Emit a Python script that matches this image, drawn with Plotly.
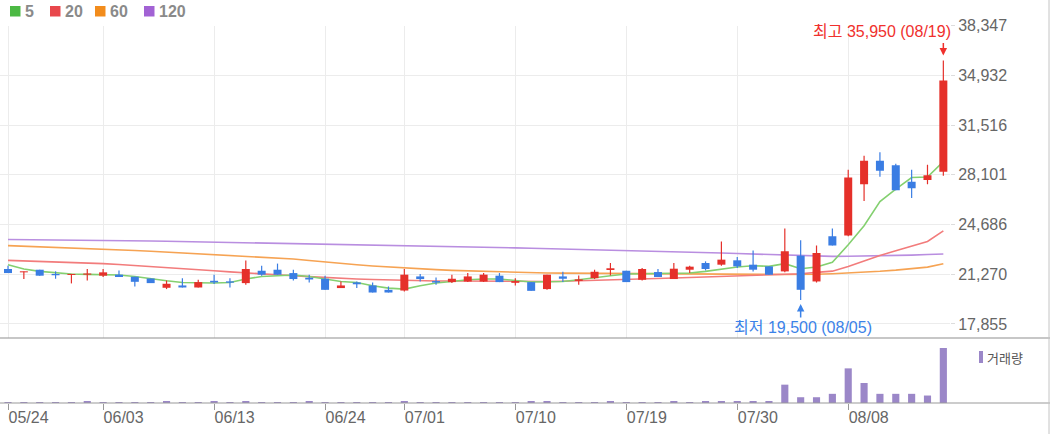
import plotly.graph_objects as go

# ---------------- data ----------------
dates = ["05/24", "05/27", "05/28", "05/29", "05/30", "05/31", "06/03", "06/04", "06/05", "06/07",
         "06/10", "06/11", "06/12", "06/13", "06/14", "06/17", "06/18", "06/19", "06/20", "06/21",
         "06/24", "06/25", "06/26", "06/27", "06/28", "07/01", "07/02", "07/03", "07/04", "07/05",
         "07/08", "07/09", "07/10", "07/11", "07/12", "07/15", "07/16", "07/17", "07/18", "07/19",
         "07/22", "07/23", "07/24", "07/25", "07/26", "07/29", "07/30", "07/31", "08/01", "08/02",
         "08/05", "08/06", "08/07", "08/08", "08/09", "08/12", "08/13", "08/14", "08/16", "08/19"]

opens = [21630, 21400, 21580, 21290, 21220, 21240, 21170, 21240, 21100, 20980,
         20340, 20500, 20360, 20820, 20780, 20660, 21510, 21580, 21350, 21030,
         20960, 20320, 20710, 20500, 20200, 20150, 21120, 20800, 20730, 20770,
         20770, 21170, 20680, 20730, 20250, 21120, 20810, 21000, 21560, 21510,
         20890, 21420, 20940, 21580, 22040, 21926, 22225, 21926, 21810, 21465,
         22547, 20774, 23879, 23927, 27446, 29060, 28757, 27625, 27743, 28302]
highs = [21860, 21450, 21580, 21470, 21290, 21630, 21630, 21530, 21100, 20980,
         20840, 21000, 20890, 21236, 21000, 22220, 21860, 22000, 21580, 21240,
         21170, 20770, 20770, 20710, 20430, 21630, 21290, 21050, 21236, 21350,
         21350, 21350, 21000, 20730, 21240, 21440, 21190, 21580, 22040, 21510,
         21700, 21630, 22040, 21860, 22155, 23513, 22460, 22892, 21810, 24410,
         23600, 23237, 24410, 28440, 29400, 29640, 28850, 28440, 28790, 35950]
lows = [21350, 20940, 21170, 20960, 20640, 20840, 21080, 21080, 20430, 20660,
        20250, 20360, 20360, 20600, 20360, 20546, 21170, 21240, 20840, 20710,
        20200, 20320, 20320, 20015, 20015, 20080, 20770, 20546, 20660, 20730,
        20730, 20730, 20500, 20130, 20200, 20730, 20546, 20940, 21190, 20730,
        20840, 21080, 20940, 21350, 21530, 21857, 21700, 21465, 21236, 21400,
        19500, 20700, 23237, 23880, 26300, 27960, 27032, 26500, 27446, 28030]
closes = [21350, 21470, 21170, 21200, 21290, 21320, 21400, 21080, 20750, 20660,
          20615, 20360, 20730, 20710, 20690, 21630, 21240, 21240, 20940, 20910,
          20200, 20500, 20580, 20015, 20015, 21240, 20940, 20700, 20960, 21120,
          21240, 20730, 20800, 20130, 21240, 20960, 20920, 21440, 21680, 20730,
          21630, 21080, 21650, 21790, 21630, 22271, 21810, 21581, 21236, 22845,
          20201, 22733, 23237, 27908, 29060, 28370, 27032, 27170, 28068, 34575]
volumes = [1000, 1000, 1000, 1000, 1000, 28000, 1000, 1000, 1000, 1000,
           28000, 1000, 1000, 28000, 1000, 28000, 1000, 1000, 1000, 28000,
           1000, 1000, 1000, 1000, 1000, 28000, 1000, 1000, 1000, 1000,
           1000, 1000, 1000, 28000, 28000, 1000, 1000, 1000, 28000, 1000,
           1000, 1000, 28000, 1000, 28000, 28000, 28000, 28000, 28000, 378000,
           119000, 119000, 189000, 714000, 413000, 189000, 189000, 189000, 154000, 1134000]

ma5 = [21926, 21630, 21464, 21354, 21285, 21257, 21236, 21215, 21119, 20960,
       20822, 20705, 20663, 20663, 20705, 20940, 21119, 21188, 21215, 21119,
       20940, 20774, 20705, 20477, 20318, 20249, 20477, 20663, 20774, 20891,
       20940, 20940, 20843, 20732, 20753, 20774, 20891, 21050, 21167, 21285,
       21305, 21354, 21354, 21354, 21464, 21630, 21768, 21857, 21809, 21995,
       21650, 21768, 22085, 23300, 24600, 26260, 27120, 27908, 27940, 29000]
ma20 = [22223, 22190, 22160, 22133, 22090, 22040, 21995, 21935, 21870, 21809,
        21730, 21655, 21581, 21505, 21430, 21354, 21290, 21230, 21167, 21105,
        21040, 20981, 20940, 20905, 20870, 20843, 20825, 20810, 20801, 20790,
        20780, 20774, 20774, 20774, 20774, 20790, 20815, 20843, 20875, 20910,
        20940, 20975, 21008, 21045, 21080, 21119, 21160, 21200, 21236, 21270,
        21305, 21400, 21480, 21800, 22200, 22560, 22880, 23190, 23520, 24250]
ma60 = [23237, 23200, 23160, 23125, 23085, 23045, 23009, 22955, 22900, 22845,
        22790, 22740, 22685, 22625, 22565, 22505, 22440, 22380, 22319, 22210,
        22100, 21995, 21920, 21840, 21765, 21698, 21640, 21585, 21533, 21495,
        21460, 21422, 21395, 21370, 21354, 21345, 21335, 21326, 21320, 21315,
        21310, 21305, 21300, 21290, 21280, 21270, 21265, 21260, 21260, 21255,
        21250, 21270, 21305, 21350, 21420, 21470, 21550, 21640, 21760, 21990]
ma120 = [23651, 23645, 23640, 23630, 23620, 23610, 23600, 23585, 23570, 23552,
         23534, 23515, 23495, 23475, 23455, 23435, 23415, 23395, 23375, 23360,
         23343, 23327, 23306, 23285, 23262, 23240, 23218, 23195, 23170, 23148,
         23125, 23100, 23078, 23055, 23030, 23005, 22980, 22955, 22930, 22905,
         22880, 22862, 22844, 22805, 22765, 22725, 22690, 22650, 22616, 22585,
         22555, 22525, 22499, 22505, 22515, 22530, 22547, 22580, 22620, 22664]

ma_names = ["5", "20", "60", "120"]
price_ticks = [17855, 21270, 24686, 28101, 31516, 34932, 38347]
date_ticks = ["05/24", "06/03", "06/13", "06/24", "07/01", "07/10", "07/19", "07/30", "08/08"]
volume_label = "거래량"

# ---------------- styles ----------------
W, H = 1050, 434
UP, DOWN = "#e5302a", "#3a7de3"
ma_line_colors = ["#84d070", "#f27c7c", "#f6a353", "#b98ee0"]
ma_legend_colors = ["#4cb944", "#e8474c", "#f28c1c", "#a262d4"]
VOL = "#9b87c8"
TXT_FONT = "Liberation Sans, Noto Sans CJK KR, sans-serif"


def pxx(p):
    return p / W


def pxy(p):
    return 1 - p / H


fig = go.Figure()

# moving averages (under the candles)
for vals, col in zip([ma120, ma60, ma20, ma5], ma_line_colors[::-1]):
    fig.add_trace(go.Scatter(x=dates, y=vals, mode="lines", xaxis="x", yaxis="y",
                             line=dict(color=col, width=1.6), hoverinfo="skip"))


def segments(idx, a, b):
    xs, ys = [], []
    for i in idx:
        xs += [dates[i], dates[i], None]
        ys += [a[i], b[i], None]
    return xs, ys


up_idx = [i for i in range(len(dates)) if closes[i] >= opens[i]]
dn_idx = [i for i in range(len(dates)) if closes[i] < opens[i]]

for idx, col in [(up_idx, UP), (dn_idx, DOWN)]:
    wx, wy = segments(idx, lows, highs)
    fig.add_trace(go.Scatter(x=wx, y=wy, mode="lines", xaxis="x", yaxis="y",
                             line=dict(color=col, width=1.2), hoverinfo="skip"))
    bx, by = segments(idx, opens, closes)
    fig.add_trace(go.Scatter(x=bx, y=by, mode="lines", xaxis="x", yaxis="y",
                             line=dict(color=col, width=8), hoverinfo="skip"))

# volume
fig.add_trace(go.Bar(x=dates, y=volumes, xaxis="x2", yaxis="y2", width=0.45,
                     marker=dict(color=VOL, line=dict(width=0)), hoverinfo="skip"))

xdom = [0, 950 / W]
xrange_ = [-0.505, 59.42]

fig.update_layout(
    width=W, height=H,
    margin=dict(l=0, r=0, t=0, b=0, autoexpand=False),
    paper_bgcolor="white", plot_bgcolor="white",
    showlegend=False,
    xaxis=dict(domain=xdom, anchor="y", type="category", categoryorder="array",
               categoryarray=dates, range=xrange_, tickvals=date_ticks,
               showticklabels=False, ticks="", showgrid=True, gridcolor="#ececec",
               gridwidth=1, zeroline=False, showline=False, fixedrange=True),
    yaxis=dict(domain=[pxy(338), pxy(25.5)], anchor="x", side="right",
               range=[16892, 38347], tickvals=price_ticks, tickformat=",d",
               ticks="outside", ticklen=4, tickcolor="#dddddd",
               tickfont=dict(family=TXT_FONT, size=16, color="#666666"),
               showgrid=True, gridcolor="#ececec", gridwidth=1, automargin=False,
               zeroline=False, showline=False, fixedrange=True),
    xaxis2=dict(domain=xdom, anchor="y2", type="category", categoryorder="array",
                categoryarray=dates, range=xrange_, tickvals=date_ticks, ticktext=date_ticks,
                ticks="outside", ticklen=6, tickcolor="#999999", ticklabelposition="outside right",
                tickfont=dict(family=TXT_FONT, size=16, color="#666666"), automargin=False,
                showgrid=False, zeroline=False, showline=False, fixedrange=True),
    yaxis2=dict(domain=[pxy(403), pxy(338)], anchor="x2", range=[0, 1340000],
                showticklabels=False, ticks="", showgrid=False, zeroline=False,
                showline=False, fixedrange=True),
)

shapes = [
    dict(type="line", xref="paper", yref="paper", x0=0, x1=1, y0=pxy(338), y1=pxy(338),
         line=dict(color="#8f8f8f", width=1.2)),
    dict(type="line", xref="paper", yref="paper", x0=0, x1=1, y0=pxy(403), y1=pxy(403),
         line=dict(color="#9a9a9a", width=1.2)),
    dict(type="line", xref="paper", yref="paper", x0=pxx(1049), x1=pxx(1049), y0=0, y1=1,
         line=dict(color="#c4c4c4", width=1)),
    dict(type="rect", xref="paper", yref="paper", x0=pxx(979), x1=pxx(983),
         y0=pxy(363), y1=pxy(351), fillcolor=VOL, line=dict(width=0)),
]
annotations = []

# MA legend (top-left)
leg_x = [10, 50, 95, 144]
for name, col, lx in zip(ma_names, ma_legend_colors, leg_x):
    shapes.append(dict(type="rect", xref="paper", yref="paper", x0=pxx(lx), x1=pxx(lx + 10.5),
                       y0=pxy(16.5), y1=pxy(6), fillcolor=col, line=dict(width=0)))
    annotations.append(dict(x=pxx(lx + 12.5), y=pxy(11.5), xref="paper", yref="paper",
                            xanchor="left", yanchor="middle", showarrow=False,
                            text="<b>%s</b>" % name,
                            font=dict(family=TXT_FONT, size=16, color="#8a8a8a")))

annotations.append(dict(x=pxx(985), y=pxy(357), xref="paper", yref="paper",
                        xanchor="left", yanchor="middle", showarrow=False, text=volume_label,
                        font=dict(family="Noto Sans CJK KR", size=13, color="#555555")))

# highest / lowest markers
hi = max(range(len(highs)), key=lambda i: highs[i])
lo = min(range(len(lows)), key=lambda i: lows[i])
HI_COL, LO_COL = "#f0302d", "#3b82e8"
annotations += [
    dict(x=dates[hi], y=highs[hi], xref="x", yref="y", text="", showarrow=True,
         ax=0, ay=-19, standoff=5, arrowhead=2, arrowsize=1, arrowwidth=1.5, arrowcolor=HI_COL),
    dict(x=dates[hi], y=highs[hi], xref="x", yref="y", showarrow=False,
         xanchor="right", yanchor="middle", xshift=10, yshift=29,
         text="최고 {:,} ({})".format(highs[hi], dates[hi]),
         font=dict(family=TXT_FONT, size=16, color=HI_COL)),
    dict(x=dates[lo], y=lows[lo], xref="x", yref="y", text="", showarrow=True,
         ax=0, ay=19, standoff=4, arrowhead=2, arrowsize=1, arrowwidth=1.5, arrowcolor=LO_COL),
    dict(x=dates[lo], y=lows[lo], xref="x", yref="y", showarrow=False,
         xanchor="center", yanchor="middle", xshift=2, yshift=-27,
         text="최저 {:,} ({})".format(lows[lo], dates[lo]),
         font=dict(family=TXT_FONT, size=16, color=LO_COL)),
]

fig.update_layout(shapes=shapes, annotations=annotations)
fig.write_html("out.html", config={"displayModeBar": False},
               post_script="document.body.style.margin='0';")
